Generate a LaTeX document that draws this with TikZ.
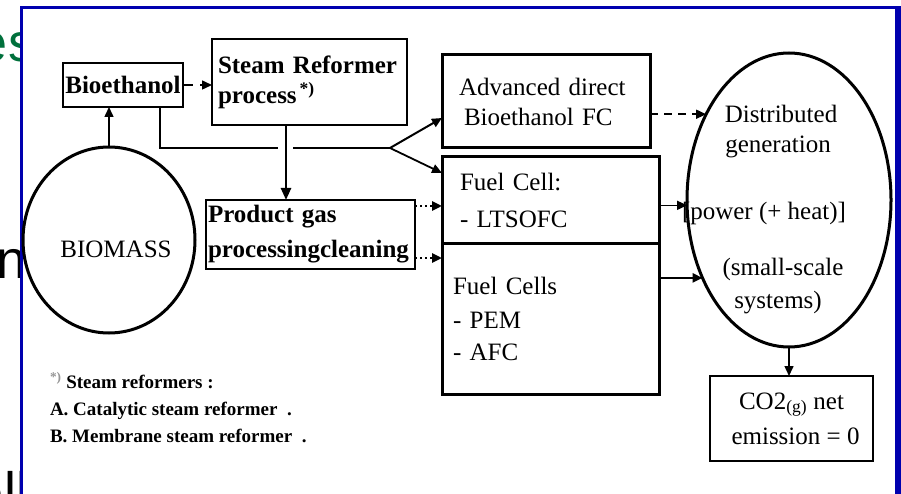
\documentclass[tikz,border=0pt]{standalone}
\usepackage{fontspec}
\setmainfont{Liberation Serif}
\newfontfamily\bgsans{Liberation Sans}
\usetikzlibrary{arrows.meta,shapes.geometric}
\definecolor{framblue}{RGB}{0,0,175}
\definecolor{bggreen}{RGB}{0,112,60}
\definecolor{starg}{RGB}{150,150,150}
\begin{document}
\begin{tikzpicture}[x=1pt,y=-1pt,
  every node/.style={inner sep=0pt,outer sep=0pt},
  tip/.style={-{Triangle[length=10pt,width=9pt]}},
  bigtip/.style={-{Triangle[length=12pt,width=10pt]}},
  conn/.style={line width=1.5pt,black},
  thinbox/.style={draw,line width=1.6pt,align=left,anchor=north west},
  thickbox/.style={draw,line width=3pt,align=left,anchor=north west},
  boxfont/.style={font=\fontsize{25}{30}\selectfont},
  boldfont/.style={font=\bfseries\fontsize{25}{30}\selectfont},
  notefont/.style={font=\bfseries\fontsize{19}{22}\selectfont},
  bgfont/.style={font=\bgsans\fontsize{54}{60}\selectfont},
]
\useasboundingbox (0,0) rectangle (901,494);
\fill[white] (0,0) rectangle (901,494);

% background slide text, cut by the frame
\begin{scope}
  \clip (0,0) rectangle (20,494);
  \node[bgfont,text=bggreen,anchor=base west] (bga) at (-22,62) {es};
  \node[bgfont,anchor=base west] (bgb) at (-3,278) {n};
  \node[bgfont,anchor=base west] (bgc) at (-26,510) {ell};
\end{scope}

% blue frame
\draw[framblue,line width=3pt] (21,494) -- (21,8) -- (896,8);
\fill[framblue] (895,6) rectangle (901,494);

% boxes
\node[thinbox,boldfont,minimum width=120pt,minimum height=44pt,align=center] (bio) at (63,63) {Bioethanol};
\node[thinbox,boldfont,text width=183pt,inner xsep=6pt,minimum height=86pt] (sr) at (212,39)
  {Steam Reformer\\process\textsuperscript{\,*)}};
\node[thinbox,boldfont,text width=205pt,inner xsep=2pt,minimum height=69pt] (pg) at (206,200)
  {Product gas\\[5pt]processingcleaning};
\node[thickbox,boxfont,text width=174pt,inner xsep=17pt,minimum height=93pt] (adv) at (442,55)
  {Advanced direct\\\hspace*{5pt}Bioethanol FC};
\node[thickbox,boxfont,text width=181pt,inner xsep=18pt,minimum height=86pt] (fc1) at (442,157)
  {Fuel Cell:\\[7pt]- LTSOFC};
\node[thickbox,boxfont,text width=195pt,inner xsep=11pt,minimum height=151pt] (fc2) at (442,243)
  {Fuel Cells\\[4pt]- PEM\\[2pt]- AFC};
\node[draw,line width=2.5pt,boxfont,align=center,minimum width=163pt,minimum height=85pt,anchor=north west] (co2) at (710,376)
  {CO2\textsubscript{(g)} net\\[5pt]\hspace*{8pt}emission = 0};

% ellipses
\node[ellipse,draw,line width=3pt,minimum width=172pt,minimum height=186pt] (bm) at (109,240) {};
\node[boxfont,anchor=base] (bmt) at (116,258) {BIOMASS};
\node[ellipse,draw,line width=3pt,minimum width=204pt,minimum height=294pt] (dg) at (789,200) {};
\node[boxfont,anchor=base] (dg1) at (781,123) {Distributed};
\node[boxfont,anchor=base] (dg2) at (778,153) {generation};
\node[boxfont,anchor=base] (dg3) at (764,220) {[power (+ heat)]};
\node[boxfont,anchor=base] (dg4) at (783,275) {(small-scale};
\node[boxfont,anchor=base] (dg5) at (778,308) {systems)};

% footnote
\node[notefont,anchor=base west] (fn0) at (50,388) {\textcolor{starg}{\textsuperscript{*)}} Steam reformers :};
\node[notefont,anchor=base west] (fn1) at (50,415) {A.\ Catalytic steam reformer\ \ .};
\node[notefont,anchor=base west] (fn2) at (50,442) {B.\ Membrane steam reformer\ \ .};

% helper coordinates
\coordinate (hx) at (160,0);
\coordinate (vx) at (286,0);
\coordinate (gl) at (278,148);
\coordinate (gr) at (293,148);
\coordinate (br) at (390,148);
\coordinate (ya) at (0,118);
\coordinate (yb) at (0,173);
\coordinate (yc) at (0,206);
\coordinate (yd) at (0,258);

% connectors
\draw[conn,tip] (bm.north) -- (bm.north |- bio.south);
\draw[conn,tip,dash pattern=on 10pt off 7pt] (bio.east) -- (bio.east -| sr.west);
\draw[conn] (bio.south -| hx) |- (gl);
\draw[conn] (gr) -- (br);
\draw[line width=2.5pt,bigtip] (sr.south -| vx) -- (pg.north -| vx);
\draw[line width=2pt,tip] (br) -- (adv.west |- ya);
\draw[line width=1.8pt,tip] (br) -- (fc1.west |- yb);
\draw[line width=2.5pt,tip,dash pattern=on 2pt off 3pt] (pg.east |- yc) -- (fc1.west |- yc);
\draw[line width=2.5pt,tip,dash pattern=on 2pt off 3pt] (pg.east |- yd) -- (fc2.west |- yd);
\draw[conn,tip,dash pattern=on 8pt off 6pt] (adv.east |- dg.134.4) -- (dg.134.4);
\draw[conn,tip] (fc1.east |- dg.183.9) -- (dg.183.9);
\draw[line width=2.5pt,tip] (fc2.east |- dg.222) -- (dg.222);
\draw[conn,tip] (dg.south) -- (dg.south |- co2.north);
\end{tikzpicture}
\end{document}
